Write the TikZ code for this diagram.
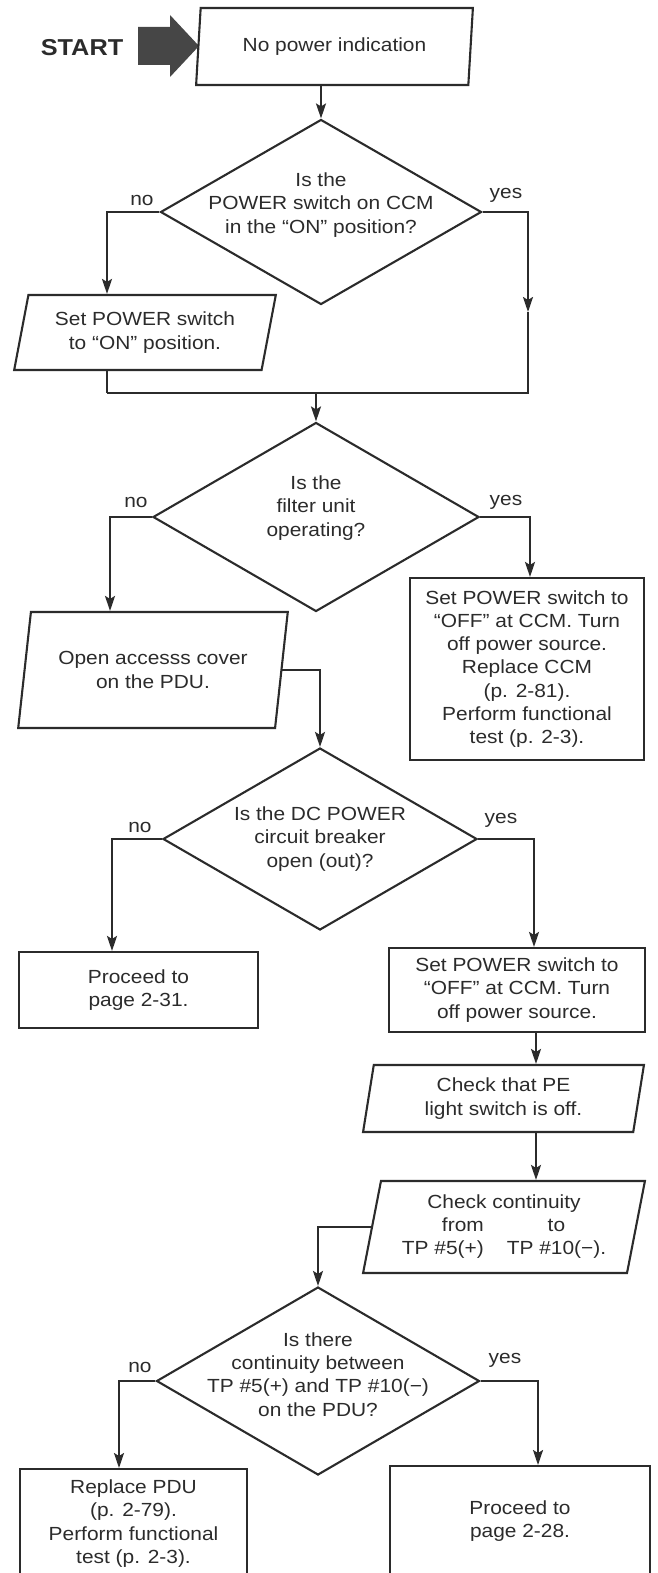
\documentclass[tikz,border=0pt]{standalone}
\usepackage{fontspec}
\setmainfont{Liberation Sans}[FakeStretch=1.1]
\usetikzlibrary{arrows.meta, shapes.geometric}
\definecolor{ink}{HTML}{2B2B2B}
\definecolor{startgrey}{HTML}{464646}
\newcommand{\chartfont}{\fontsize{19}{23.3}\selectfont}
\newcommand{\startfont}{\fontsize{23}{26}\selectfont\bfseries}
\tikzset{
  flowline/.style={ink, line width=2.1pt},
  flow/.style={flowline, -{Stealth[length=15pt,width=10pt,inset=3pt]}},
  txt/.style={text=ink, font=\chartfont, align=center, inner sep=0pt},
  io/.style 2 args={txt, draw=ink, line width=2.1pt, trapezium,
    trapezium left angle=#1, trapezium right angle=#2, trapezium stretches=true},
  act/.style={txt, draw=ink, line width=2.1pt, rectangle},
  decision/.style={draw=ink, line width=2.1pt, diamond, inner sep=0pt}
}

\begin{document}
\begin{tikzpicture}[x=1pt, y=-1pt]
  \useasboundingbox (0,0) rectangle (657,1573);
  % start marker
  \node[txt, font=\startfont] (startlbl) at (82,48) {START};
  \fill[startgrey] (138,27) -- (170,27) -- (170,15) -- (199,46) -- (170,77)
    -- (170,65) -- (138,65) -- cycle;
  % first check
  \node[io={80}{100}, minimum width=277pt, minimum height=77pt] (start) at (334.5,46.5)
    {No power indication};
  \node[decision, minimum width=321pt, minimum height=185pt,
    label={[txt, yshift=7pt]center:{Is the\\POWER switch on CCM\\in the ``ON'' position?}}]
    (q1) at (321,212) {};
  \node[io={75}{105}, minimum width=262pt, minimum height=75pt] (seton) at (145,332.5)
    {Set POWER switch\\to ``ON'' position.};
  \node[txt] (no1) at (142,200) {no};
  \node[txt] (yes1) at (506,195) {yes};
  \coordinate (tip1) at (528,312);
  \coordinate (merge1) at (107,393);
  % filter unit
  \node[decision, minimum width=326pt, minimum height=189pt,
    label={[txt, yshift=9pt]center:{Is the\\filter unit\\operating?}}]
    (q2) at (316,517) {};
  \node[txt] (no2) at (136,502) {no};
  \node[txt] (yes2) at (506,502) {yes};
  \node[act, minimum width=234pt, minimum height=182pt] (replccm) at (527,669)
    {Set POWER switch to\\``OFF'' at CCM. Turn\\off power source.\\Replace CCM\\(p. 2-81).\\Perform functional\\test (p. 2-3).};
  \node[io={75}{105}, minimum width=270pt, minimum height=116pt] (opencov) at (153,670)
    {Open accesss cover\\on the PDU.};
  % circuit breaker
  \node[decision, minimum width=314pt, minimum height=182pt,
    label={[txt]center:{Is the DC POWER\\circuit breaker\\open (out)?}}]
    (q3) at (320,839) {};
  \node[txt] (no3) at (140,827) {no};
  \node[txt] (yes3) at (501,820) {yes};
  \node[act, minimum width=239pt, minimum height=76pt] (go231) at (138.5,990)
    {Proceed to\\page 2-31.};
  \node[act, minimum width=256pt, minimum height=84pt] (offccm) at (517,990)
    {Set POWER switch to\\``OFF'' at CCM. Turn\\off power source.};
  \coordinate (rcol) at (536,0);
  \node[io={81}{99}, minimum width=281pt, minimum height=67pt] (checkpe) at (503.5,1098.5)
    {Check that PE\\light switch is off.};
  \node[io={78}{102}, minimum width=282pt, minimum height=92pt] (checkcont) at (504,1227)
    {\begin{tabular}{@{}r@{\hspace{23pt}}c@{}}
      \multicolumn{2}{c}{Check continuity}\\
      from & to\\
      TP \#5(+) & TP \#10(−).
    \end{tabular}};
  % continuity
  \node[decision, minimum width=323pt, minimum height=188pt,
    label={[txt, yshift=6.5pt]center:{Is there\\continuity between\\TP \#5(+) and TP \#10(−)\\on the PDU?}}]
    (q4) at (318,1381) {};
  \node[txt] (no4) at (140,1367) {no};
  \node[txt] (yes4) at (505,1360) {yes};
  \node[act, minimum width=227pt, minimum height=109pt, anchor=north] (replpdu) at (133.5,1468)
    {Replace PDU\\(p. 2-79).\\Perform functional\\test (p. 2-3).};
  \node[act, minimum width=260pt, minimum height=110pt, anchor=north] (go228) at (520,1465)
    {Proceed to\\page 2-28.};
  % connectors
  \draw[flow] (q1.north |- start.south) -- (q1.north);
  \draw[flow] (q1.west) -| (seton.north -| merge1);
  \draw[flow] (q1.east) -| (tip1);
  \draw[flowline] (tip1) |- (merge1);
  \draw[flowline] (seton.south -| merge1) -- (merge1);
  \draw[flow] (q2.north |- merge1) -- (q2.north);
  \draw[flow] (q2.west) -| ([xshift=-43pt]opencov.north);
  \draw[flow] (q2.east) -| ([xshift=3pt]replccm.north);
  \draw[flow] (opencov.east) -| (q3.north);
  \draw[flow] (q3.west) -| ([xshift=-26.5pt]go231.north);
  \draw[flow] (q3.east) -| ([xshift=17pt]offccm.north);
  \draw[flow] (offccm.south -| rcol) -- (checkpe.north -| rcol);
  \draw[flow] (checkpe.south -| rcol) -- (checkcont.north -| rcol);
  \draw[flow] (checkcont.west) -| (q4.north);
  \draw[flow] (q4.west) -| ([xshift=-14.5pt]replpdu.north);
  \draw[flow] (q4.east) -| ([xshift=18pt]go228.north);
\end{tikzpicture}
\end{document}
